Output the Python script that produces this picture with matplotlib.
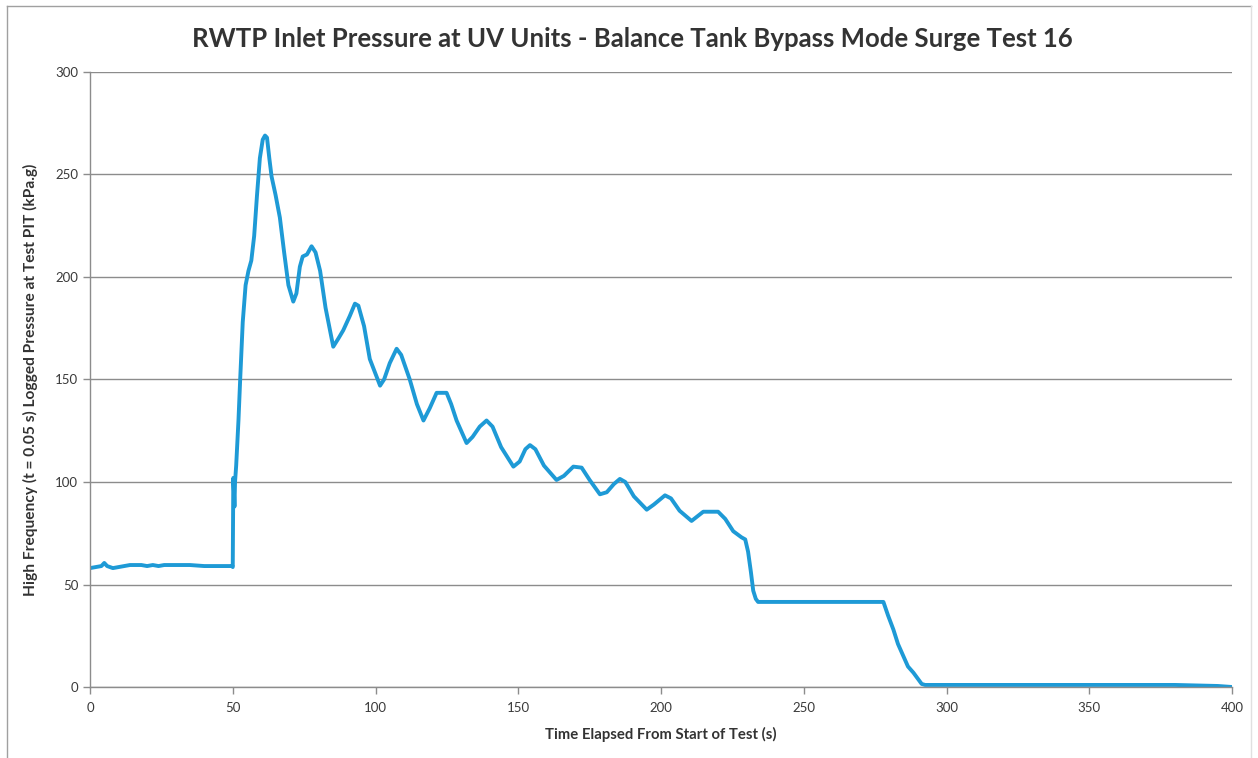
import matplotlib
matplotlib.use("Agg")
import matplotlib.pyplot as plt
from matplotlib.lines import Line2D

plt.rcParams['font.family'] = ['Lato', 'DejaVu Sans']

# values
time_s = [0, 2, 4, 5, 6, 8, 10, 12, 14, 16, 18, 20, 22, 24, 26, 30, 35, 40, 45, 49.8,
          50.0, 50.2, 50.4, 50.6, 50.8, 51.2, 52.0, 52.6, 53.5, 54.5, 55.5, 56.5, 57.5,
          58.5, 59.5, 60.5, 61.3, 62.0, 62.8, 63.6, 65.0, 66.5, 68.0, 69.5, 71.2, 72.3,
          73.5, 74.5, 76.0, 77.6, 79.0, 80.6, 82.5, 85.2, 87.0, 88.7, 91.0, 92.8, 94.0,
          96.0, 98.0, 101.6, 103.0, 105.0, 107.4, 109.0, 112.0, 114.5, 116.8, 119.0,
          121.4, 124.9, 126.5, 128.4, 131.9, 134.0, 136.5, 138.9, 141.0, 144.0, 148.3,
          150.5, 152.5, 154.1, 156.0, 159.0, 163.4, 166.0, 169.3, 172.2, 175.0, 178.6,
          181.0, 183.5, 185.6, 187.5, 190.5, 195.0, 197.5, 201.4, 203.5, 206.5, 210.7,
          212.5, 214.8, 220.0, 222.5, 225.3, 228.2, 229.5, 230.5, 231.5, 232.3, 233.2,
          234.0, 240, 250, 260, 270, 277.9, 279.5, 281.4, 283.0, 284.9, 286.5, 288.4,
          290.0, 291.3, 292.5, 300, 320, 340, 360, 380, 395, 400]
pressure_kpa = [58, 58.5, 59, 60.5, 59, 58, 58.5, 59, 59.5, 59.5, 59.5, 59, 59.5, 59, 59.5,
                59.5, 59.5, 59, 59, 59,
                58.5, 102, 96, 88, 100, 108, 130, 150, 178, 196, 203, 208, 220,
                240, 258, 267, 269, 268, 258, 249, 240, 229, 212, 196, 188, 192,
                205, 210, 211, 215, 212, 203, 185, 166, 170, 174, 181, 187, 186,
                176, 160, 147, 150, 158, 165, 162, 150, 138, 130, 136,
                143.5, 143.5, 138, 130, 119, 122, 127, 130, 127, 117, 107.5,
                110, 116, 118, 116, 108, 101, 103, 107.5, 107, 101, 94,
                95, 99, 101.5, 100, 93, 86.5, 89, 93.5, 92, 86, 81,
                83, 85.5, 85.5, 82, 76, 73, 72, 66, 56, 47, 43,
                41.5, 41.5, 41.5, 41.5, 41.5, 41.5, 35, 28, 21, 15, 10, 7,
                4, 1.5, 1, 1, 1, 1, 1, 1, 0.5, 0]

x_ticks = [0, 50, 100, 150, 200, 250, 300, 350, 400]
y_ticks = [0, 50, 100, 150, 200, 250, 300]

fig = plt.figure(figsize=(12.58, 7.58), dpi=100)
ax = fig.add_axes([90 / 1258, 1 - 687 / 758, (1232 - 90) / 1258, (687 - 72) / 758])

ax.plot(time_s, pressure_kpa, color='#1e9ad6', linewidth=2.8, solid_joinstyle='round')

ax.set_xlim(0, 400)
ax.set_ylim(0, 300)
ax.set_xticks(x_ticks)
ax.set_yticks(y_ticks)
ax.grid(axis='y', color='#8c8c8c', linewidth=1.0)
ax.set_axisbelow(True)

for side in ['top', 'right']:
    ax.spines[side].set_visible(False)
for side in ['left', 'bottom']:
    ax.spines[side].set_color('#8c8c8c')
    ax.spines[side].set_linewidth(1.0)

ax.tick_params(axis='both', colors='#8c8c8c', length=5, width=1.0, labelsize=9.5,
               labelcolor='#3a3a3a', direction='out')
ax.tick_params(axis='x', pad=6)

ax.set_xlabel('Time Elapsed From Start of Test (s)', fontsize=10.7, fontweight='bold',
              color='#333333', labelpad=9)
ax.set_ylabel('High Frequency (t = 0.05 s) Logged Pressure at Test PIT (kPa.g)', fontsize=11.2,
              fontweight='bold', color='#333333', labelpad=12)

fig.text(632 / 1258, 1 - 39 / 758, 'RWTP Inlet Pressure at UV Units - Balance Tank Bypass Mode Surge Test 16',
         ha='center', va='center', fontsize=18.5, fontweight='bold', color='#333333')

# thin chart-area border
border_kw = dict(color='#a0a0a0', linewidth=1.0, transform=fig.transFigure)
fig.add_artist(Line2D([7 / 1258, 7 / 1258], [0, 1 - 6 / 758], **border_kw))
fig.add_artist(Line2D([7 / 1258, 1251 / 1258], [1 - 6 / 758, 1 - 6 / 758], **border_kw))
fig.add_artist(Line2D([1251 / 1258, 1251 / 1258], [0, 1 - 6 / 758], color='#e0e0e0',
                      linewidth=1.0, transform=fig.transFigure))

fig.savefig('out.png', dpi=100)
